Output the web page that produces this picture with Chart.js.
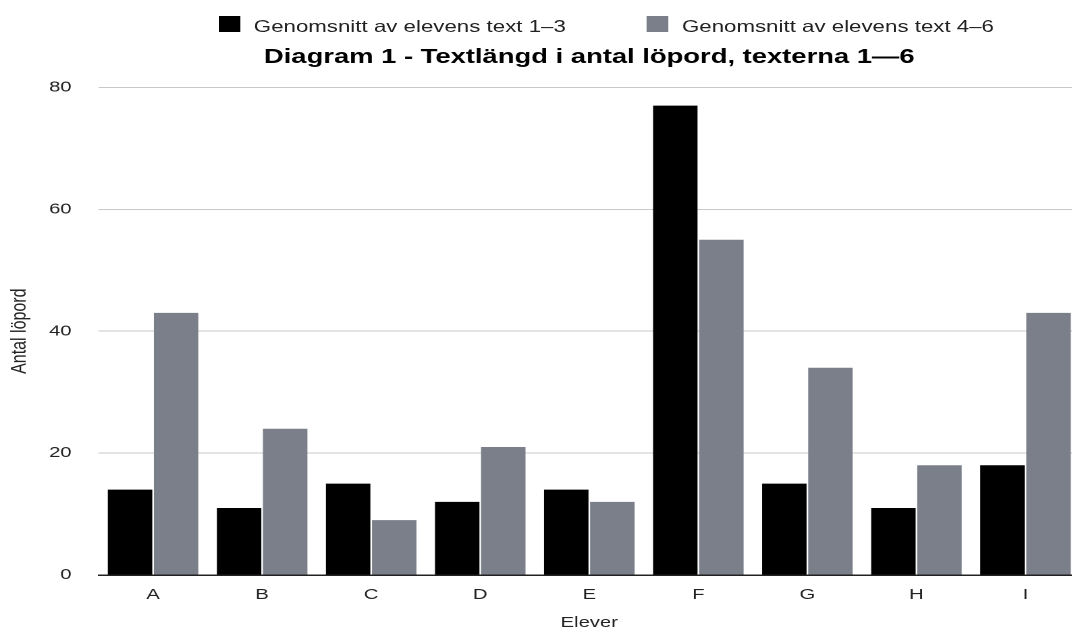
<!DOCTYPE html>
<html lang="sv">
<head>
<meta charset="utf-8">
<script src="https://cdn.jsdelivr.net/npm/chart.js@4.4.1/dist/chart.umd.min.js"></script>
<style>
html,body{margin:0;padding:0;background:#fff;overflow:hidden;}
/* the reference is stretched sideways, so the whole drawing is too */
#wrap{position:relative;width:800px;height:630px;transform:scaleX(1.35);transform-origin:0 0;}
#legend{position:absolute;left:162px;top:16px;display:flex;gap:60px;font-family:'Liberation Sans',Arial,sans-serif;font-size:16.5px;color:#222;white-space:nowrap;}
.leg-item{display:flex;align-items:baseline;}
.leg-box{width:16px;height:16px;margin-right:10px;}
canvas{display:block;}
</style>
</head>
<body>
<div id="wrap">
  <div id="legend"></div>
  <canvas id="chart" width="800" height="630"></canvas>
</div>
<script>
const labels = ['A', 'B', 'C', 'D', 'E', 'F', 'G', 'H', 'I'];
const text13 = [14, 11, 15, 12, 14, 77, 15, 11, 18];
const text46 = [43, 24, 9, 21, 12, 55, 34, 18, 43];
const seriesNames = ['Genomsnitt av elevens text 1–3', 'Genomsnitt av elevens text 4–6'];
const seriesColors = ['#000000', '#7a7f8a'];
const yTicks = [0, 20, 40, 60, 80];

const FONT = "'Liberation Sans', Arial, sans-serif";

let chart;

function build_legend(datasets){
  const wrap = document.getElementById('legend');
  wrap.innerHTML = '';
  datasets.forEach(ds => {
    const item = document.createElement('div');
    item.className = 'leg-item';
    const box = document.createElement('span');
    box.className = 'leg-box';
    box.style.background = ds.backgroundColor;
    const txt = document.createElement('span');
    txt.textContent = ds.label;
    item.appendChild(box);
    item.appendChild(txt);
    wrap.appendChild(item);
  });
}

function draw_chart(){
  const datasets = [text13, text46].map((vals, i) => ({
    label: seriesNames[i],
    data: vals,
    backgroundColor: seriesColors[i],
    borderWidth: 0,
    categoryPercentage: 0.845,
    barPercentage: 0.965
  }));

  build_legend(datasets);

  const ctx = document.getElementById('chart').getContext('2d');
  if(chart) chart.destroy();
  chart = new Chart(ctx, {
    type: 'bar',
    data: { labels: labels, datasets: datasets },
    options: {
      responsive: false,
      devicePixelRatio: 2,
      animation: false,
      layout: { padding: { top: 40, left: 0, right: 0, bottom: 0 } },
      plugins: {
        legend: { display: false },
        tooltip: { enabled: false },
        title: {
          display: true,
          fullSize: false,
          text: 'Diagram 1 - Textlängd i antal löpord, texterna 1—6',
          color: '#000',
          font: { family: FONT, size: 20.3, weight: 'bold' },
          padding: { top: 5, bottom: 18 }
        }
      },
      scales: {
        x: {
          grid: { display: false },
          border: { display: true, color: '#222', width: 1.5 },
          ticks: { color: '#222', font: { family: FONT, size: 15 }, padding: 3 },
          title: { display: true, text: 'Elever', color: '#222', font: { family: FONT, size: 15 }, padding: { top: 4, bottom: -2 } },
          afterFit: s => { s.height = 55; }
        },
        y: {
          min: 0,
          max: 80,
          grid: { color: '#c8c8c8', lineWidth: 1, drawTicks: false },
          border: { display: false },
          ticks: { color: '#222', font: { family: FONT, size: 15 }, padding: 20 },
          afterBuildTicks: s => { s.ticks = yTicks.map(v => ({ value: v })); },
          title: { display: true, text: 'Antal löpord', color: '#222', font: { family: FONT, size: 16 }, padding: { top: 5, bottom: 0 } },
          afterFit: s => { s.width = 73; }
        }
      }
    }
  });
}

window.addEventListener('DOMContentLoaded', draw_chart);
</script>
</body>
</html>
